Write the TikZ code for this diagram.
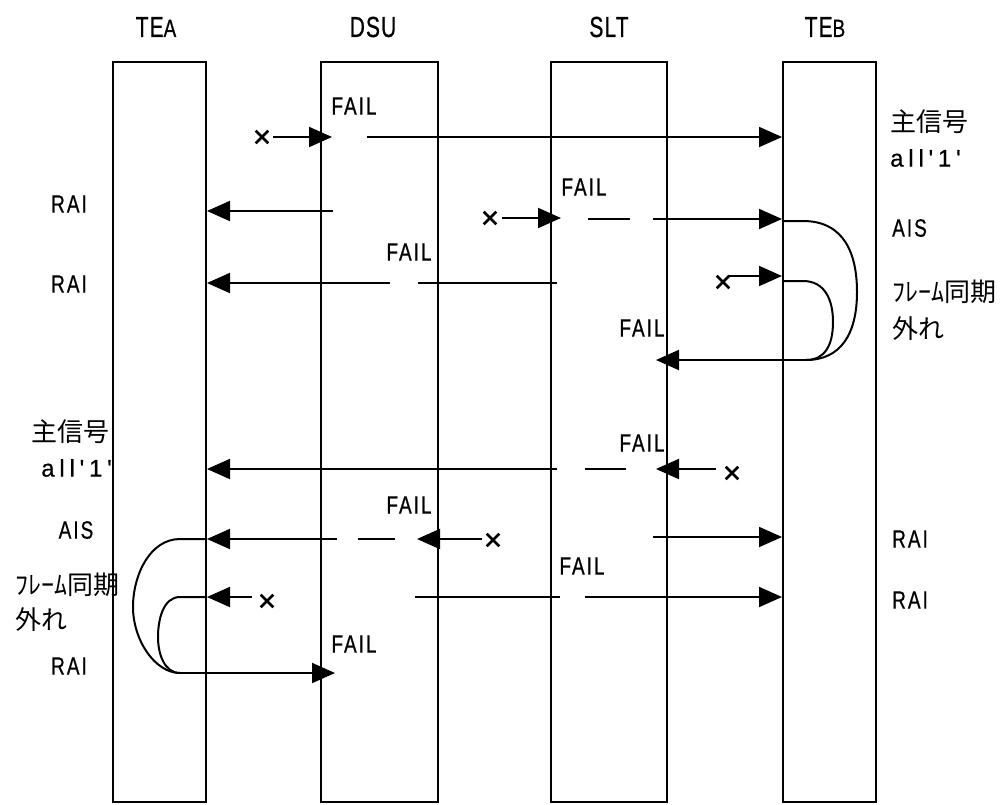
\documentclass[tikz,border=0pt]{standalone}
\usepackage{fontspec}
\usetikzlibrary{arrows.meta,shapes.misc}
\newfontfamily\lblfont[FakeStretch=0.76,LetterSpace=8,FakeBold=0.6]{Liberation Sans}
\newfontfamily\hdrfont[FakeStretch=0.72,LetterSpace=4,FakeBold=0.6]{Liberation Sans}
\newfontfamily\widefont[LetterSpace=20,FakeBold=0.6]{Liberation Sans}
\newfontfamily\jpfont{Noto Sans CJK JP}
\begin{document}
\begin{tikzpicture}[x=1pt,y=-1pt,
  unit/.style={draw, line width=2pt, minimum height=740pt, inner sep=0pt},
  ln/.style={line width=2pt},
  arr/.style={line width=2pt, -{Triangle[length=23pt,width=20pt]}},
  xm/.style={cross out, draw, line width=2.6pt, minimum size=10pt, inner sep=0pt},
  hdr/.style={inner sep=0pt, font=\hdrfont\fontsize{29}{29}\selectfont},
  lbl/.style={inner sep=0pt, font=\lblfont\fontsize{25}{25}\selectfont},
  wide/.style={inner sep=0pt, font=\widefont\fontsize{24}{24}\selectfont},
  jp/.style={inner sep=0pt, font=\jpfont\fontsize{26}{26}\selectfont}]
\useasboundingbox (0,0) rectangle (1002,804);
\fill[white] (0,0) rectangle (1002,804);

% units
\node[unit, minimum width=93pt] (tea) at (159.5,432) {};
\node[unit, minimum width=117pt] (dsu) at (379.5,432) {};
\node[unit, minimum width=116pt] (slt) at (609,432) {};
\node[unit, minimum width=93pt] (teb) at (829.5,432) {};

% headers
\node[hdr] (htea) at (156,27) {TE{\lblfont\fontsize{25}{25}\selectfont A}};
\node[hdr] (hdsu) at (373,27) {DSU};
\node[hdr] (hslt) at (609,27) {SLT};
\node[hdr] (hteb) at (825,27) {TE{\lblfont\fontsize{25}{25}\selectfont B}};

% ---- row 1
\node[xm] (x1) at (262,137) {};
\draw[arr] (273,137) -- (332,137);
\draw[arr] (367,137) -- (teb.west |- 0,137);
\node[lbl] (f1) at (354,106) {FAIL};
\node[jp, anchor=west] (r1a) at (890,122) {主信号};
\node[wide, anchor=west] (r1b) at (890,158) {all'1'};

% ---- row 2
\node[lbl] (l2) at (69,204) {RAI};
\draw[arr] (333,211) -- (tea.east |- 0,211);
\node[xm] (x2) at (490,218) {};
\draw[arr] (502,218) -- (561,218);
\node[lbl] (f2) at (584,187) {FAIL};
\draw[ln] (588,219) -- (630,219);
\draw[arr] (653,219) -- (teb.west |- 0,219);
\draw[ln] (teb.west |- 0,221) -- (803,221) .. controls (845,221) and (857,255) .. (857,292)
   .. controls (857,335) and (840,360) .. (806,360);
\node[lbl, anchor=west] (r2) at (892,228) {AIS};

% ---- row 3
\node[lbl] (l3) at (69,284) {RAI};
\draw[ln] (557,283) -- (418,283);
\draw[arr] (390,283) -- (tea.east |- 0,283);
\node[lbl] (f3) at (409,252) {FAIL};
\node[xm] (x3) at (723,282) {};
\draw[arr] (729,276) -- (teb.west |- 0,276);
\draw[ln] (teb.west |- 0,281) -- (803,281) .. controls (825,281) and (833,300) .. (833,322)
   .. controls (833,345) and (825,360) .. (806,360);
\node[jp, anchor=west] (r3a) at (892,292) {ﾌﾚｰﾑ同期};
\node[jp, anchor=west] (r3b) at (892,329) {外れ};

% ---- row 4
\node[lbl] (f4) at (642,328) {FAIL};
\draw[arr] (teb.west |- 0,360) -- (806,360) -- (656,360);

% ---- row 5
\node[jp, anchor=east] (l5a) at (110,432) {主信号};
\node[wide, anchor=east] (l5b) at (112,468) {all'1'};
\node[xm] (x5) at (732,473) {};
\draw[arr] (716,469) -- (656,469);
\node[lbl] (f5) at (642,443) {FAIL};
\draw[ln] (626,469) -- (585,469);
\draw[arr] (557,469) -- (tea.east |- 0,469);

% ---- row 6
\node[lbl] (l6) at (76,530) {AIS};
\node[xm] (x6) at (493,540) {};
\draw[arr] (482,539) -- (417,539);
\node[lbl] (f6) at (409,505) {FAIL};
\draw[ln] (395,539) -- (358,539);
\draw[arr] (337,539) -- (tea.east |- 0,539);
\draw[ln] (tea.east |- 0,539) -- (180,539) .. controls (150,539) and (133,575) .. (133,607)
   .. controls (133,640) and (155,673) .. (180,673);
\draw[arr] (653,537) -- (teb.west |- 0,537);
\node[lbl, anchor=west] (r6) at (892,539) {RAI};

% ---- row 7
\node[jp, anchor=west] (l7a) at (15,585) {ﾌﾚｰﾑ同期};
\node[jp, anchor=west] (l7b) at (15,620) {外れ};
\node[lbl] (f7) at (582,566) {FAIL};
\draw[ln] (415,597) -- (560,597);
\draw[arr] (585,597) -- (teb.west |- 0,597);
\node[xm] (x7) at (267,601) {};
\draw[arr] (252,597) -- (tea.east |- 0,597);
\draw[ln] (tea.east |- 0,597) -- (180,597) .. controls (163,597) and (158,620) .. (158,637)
   .. controls (158,655) and (165,673) .. (180,673);
\node[lbl, anchor=west] (r7) at (892,600) {RAI};

% ---- row 8
\node[lbl] (l8) at (69,666) {RAI};
\draw[arr] (180,673) -- (335,673);
\node[lbl] (f8) at (354,644) {FAIL};
\end{tikzpicture}
\end{document}
